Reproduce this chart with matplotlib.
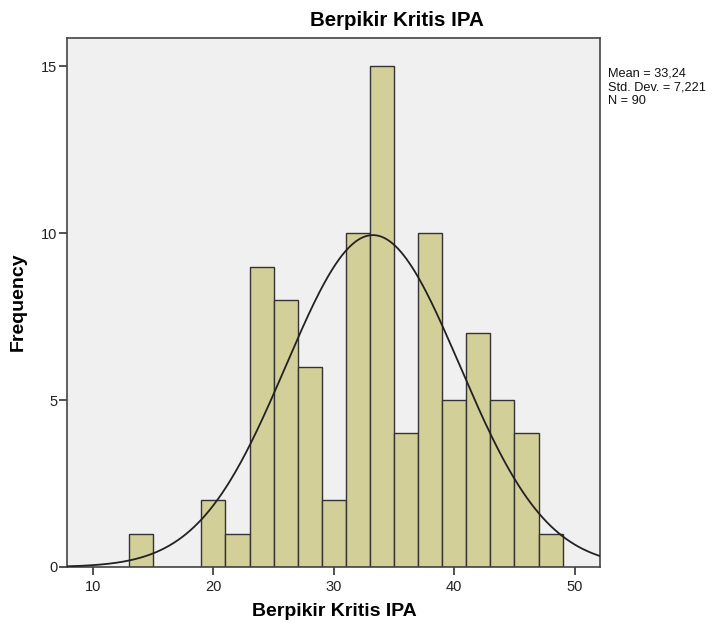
import matplotlib
matplotlib.use("Agg")
import matplotlib.pyplot as plt
import numpy as np

# histogram bins (left edges, width 2) and counts
bin_left = [13, 15, 17, 19, 21, 23, 25, 27, 29, 31, 33, 35, 37, 39, 41, 43, 45, 47]
counts = [1, 0, 0, 2, 1, 9, 8, 6, 2, 10, 15, 4, 10, 5, 7, 5, 4, 1]
bin_width = 2
mean = 33.24
sd = 7.221
n = 90

plt.rcParams["font.family"] = ["Liberation Sans", "DejaVu Sans"]

fig = plt.figure(figsize=(7.15, 6.23), dpi=100)
ax = fig.add_axes([67 / 715, 56 / 623, 533 / 715, 529 / 623])
ax.set_facecolor("#f0f0f0")

ax.bar(bin_left, counts, width=bin_width, align="edge",
       color="#d3cf98", edgecolor="#333333", linewidth=1.0, zorder=2)

# fitted normal curve scaled to counts
xs = np.linspace(7.84, 52.1, 400)
ys = n * bin_width / (sd * np.sqrt(2 * np.pi)) * np.exp(-0.5 * ((xs - mean) / sd) ** 2)
ax.plot(xs, ys, color="#222222", linewidth=1.3, zorder=3)

ax.set_xlim(7.84, 52.1)
ax.set_ylim(0, 15.85)
ax.set_xticks([10, 20, 30, 40, 50])
ax.set_yticks([0, 5, 10, 15])
ax.tick_params(axis="both", direction="out", length=6, width=1.2,
               color="#333333", labelsize=10.5, labelcolor="#222222")
ax.tick_params(axis="y", pad=1)
for s in ax.spines.values():
    s.set_color("#444444")
    s.set_linewidth(1.2)

fig.text(334 / 715, 1 - 612 / 623, "Berpikir Kritis IPA", ha="center", va="center",
         fontsize=14, fontweight="bold")
fig.text(18 / 715, 1 - 302 / 623, "Frequency", ha="center", va="center",
         rotation=90, fontsize=14, fontweight="bold")
fig.text(397 / 715, 1 - 20 / 623, "Berpikir Kritis IPA", ha="center", va="center",
         fontsize=14.8, fontweight="bold")
fig.text(608 / 715, 1 - 67 / 623,
         "Mean = 33,24\nStd. Dev. = 7,221\nN = 90",
         ha="left", va="top", fontsize=9.2, linespacing=1.25, color="#111111")

fig.savefig("out.png", dpi=100)
